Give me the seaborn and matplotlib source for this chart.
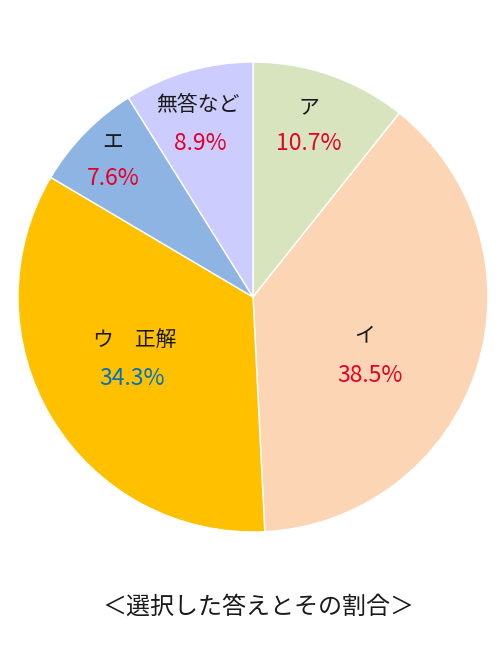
import matplotlib
matplotlib.use("Agg")
import matplotlib.pyplot as plt
import seaborn as sns

# data
labels = ['ア', 'イ', 'ウ\u3000正解', 'エ', '無答など']
shares = [10.7, 38.5, 34.3, 7.6, 8.9]
colors = ['#D7E4BD', '#FCD5B5', '#FFC000', '#8EB4E3', '#CCCCFF']
pct_colors = ['#E60028', '#E60028', '#0070C0', '#E60028', '#E60028']
title = '＜選択した答えとその割合＞'

# where each name / percentage sits inside the pie (data coords, radius 1)
label_pos = [(0.238, 0.809), (0.477, -0.162), (-0.502, -0.183), (-0.596, 0.655), (-0.234, 0.817)]
pct_pos = [(0.238, 0.655), (0.498, -0.332), (-0.515, -0.345), (-0.596, 0.506), (-0.226, 0.655)]

sns.set_theme(style="white")
plt.rcParams['font.family'] = ['Noto Sans CJK JP', 'DejaVu Sans']

fig = plt.figure(figsize=(5, 6.6), dpi=100)
ax = fig.add_axes([0.036, 0.194, 0.94, 0.712])

ax.pie(shares, colors=colors, startangle=90, counterclock=False,
       wedgeprops=dict(edgecolor='white', linewidth=1))
ax.set_xlim(-1, 1)
ax.set_ylim(-1, 1)
ax.set_aspect('equal')
ax.axis('off')

for lab, v, pc, lp, pp in zip(labels, shares, pct_colors, label_pos, pct_pos):
    ax.text(lp[0], lp[1], lab, ha='center', va='center', fontsize=15, color='#1a1a1a')
    ax.text(pp[0], pp[1], f'{v:.1f}%', ha='center', va='center', fontsize=16.5, color=pc)

fig.text(0.516, 0.081, title, ha='center', va='center', fontsize=17.3, color='#1a1a1a')

fig.savefig('out.png', dpi=100, facecolor='white')
